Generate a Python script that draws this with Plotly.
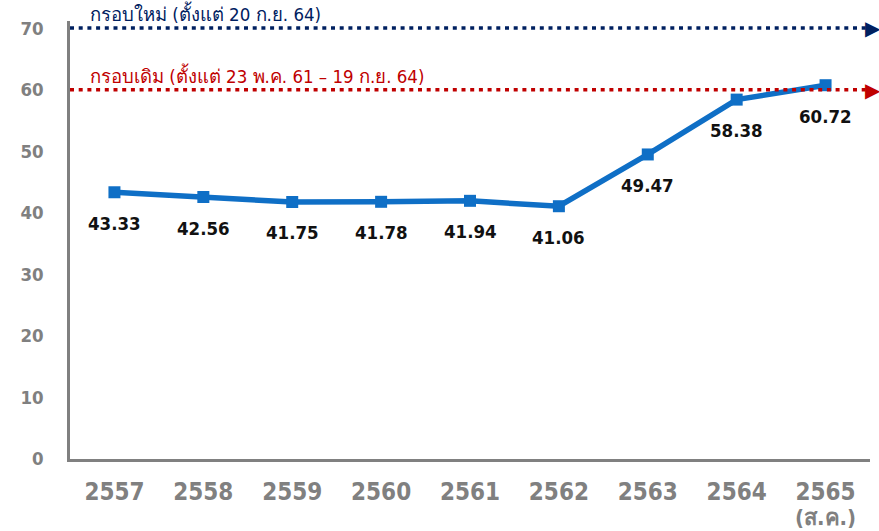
import plotly.graph_objects as go

years = ["2557", "2558", "2559", "2560", "2561", "2562", "2563", "2564", "2565"]
year_notes = ["", "", "", "", "", "", "", "", "(ส.ค.)"]
values = [43.33, 42.56, 41.75, 41.78, 41.94, 41.06, 49.47, 58.38, 60.72]
value_text = ["43.33", "42.56", "41.75", "41.78", "41.94", "41.06", "49.47", "58.38", "60.72"]

thresholds = [70, 60]
threshold_names = ["กรอบใหม่ (ตั้งแต่ 20 ก.ย. 64)", "กรอบเดิม (ตั้งแต่ 23 พ.ค. 61 – 19 ก.ย. 64)"]
threshold_colors = ["#002060", "#C00000"]

FONT = "Tahoma, 'DejaVu Sans Condensed', 'DejaVu Sans', sans-serif"

fig = go.Figure()
fig.add_trace(go.Scatter(
    x=years, y=values, mode="lines+markers",
    line=dict(color="#0F6FC6", width=5.5),
    marker=dict(symbol="square", size=12, color="#0F6FC6"),
    cliponaxis=False, hoverinfo="skip", showlegend=False,
))

for i, (yv, txt) in enumerate(zip(values, value_text)):
    fig.add_annotation(x=i, y=yv, text=txt, showarrow=False,
                       yshift=-31, font=dict(family=FONT, size=18.5, color="#111111", weight="bold"))

for i, note in enumerate(year_notes):
    if note:
        fig.add_annotation(x=i, y=0, text=note, showarrow=False, yanchor="top",
                           yshift=-45, borderpad=0,
                           font=dict(family=FONT, size=22, color="#808080", weight="bold"))

for t, name, col in zip(thresholds, threshold_names, threshold_colors):
    fig.add_shape(type="line", xref="paper", yref="y", x0=0, x1=0.995, y0=t, y1=t,
                  line=dict(color=col, width=3.5, dash="4px,4.7px"), layer="above")
    fig.add_annotation(xref="paper", yref="y", x=1.0145, y=t, text="▶", showarrow=False,
                       xanchor="right", yanchor="middle", borderpad=0,
                       font=dict(family="DejaVu Sans", size=20, color=col))
    fig.add_annotation(xref="paper", yref="y", x=0.023, y=t, text=name, showarrow=False,
                       xanchor="left", yanchor="bottom", yshift=1,
                       font=dict(family=FONT, size=18.5, color=col))

fig.update_layout(
    width=879, height=531,
    margin=dict(l=70, r=9, t=21, b=72),
    paper_bgcolor="white", plot_bgcolor="white",
    showlegend=False,
)
fig.update_xaxes(
    type="category", tickvals=years, ticktext=years,
    showline=True, linecolor="#808080", linewidth=2.5, showgrid=False,
    ticks="", ticklabelstandoff=9, automargin=False,
    tickfont=dict(family=FONT, size=24, color="#808080", weight="bold"),
    range=[-0.5, 8.5], zeroline=False,
)
fig.update_yaxes(
    range=[0, 71.15], tickvals=[0, 10, 20, 30, 40, 50, 60, 70],
    showline=True, linecolor="#808080", linewidth=2.5, automargin=False,
    showgrid=False, zeroline=False, ticks="", ticklabelstandoff=20,
    tickfont=dict(family=FONT, size=18.5, color="#808080", weight="bold"),
)

fig.write_html("out.html", config={"displayModeBar": False},
               post_script="document.body.style.margin='0';document.body.style.padding='0';")
